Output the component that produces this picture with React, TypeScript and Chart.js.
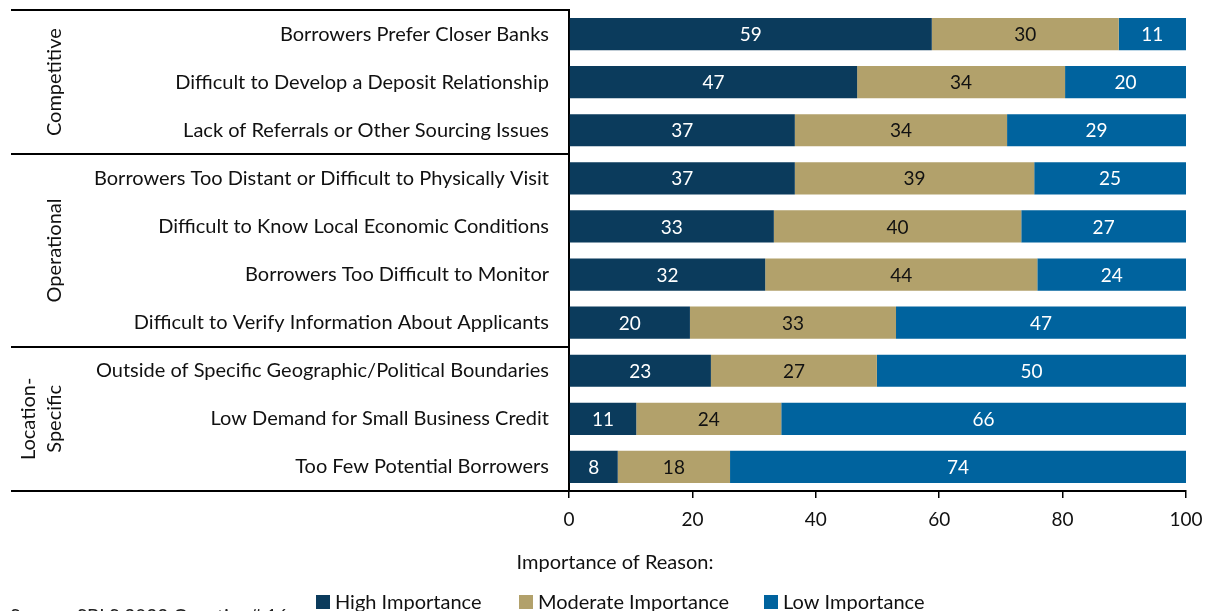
import React, { useEffect, useRef } from "react";
import { Chart, registerables } from "chart.js";

Chart.register(...registerables);

const categories = [
  "Borrowers Prefer Closer Banks",
  "Difficult to Develop a Deposit Relationship",
  "Lack of Referrals or Other Sourcing Issues",
  "Borrowers Too Distant or Difficult to Physically Visit",
  "Difficult to Know Local Economic Conditions",
  "Borrowers Too Difficult to Monitor",
  "Difficult to Verify Information About Applicants",
  "Outside of Specific Geographic/Political Boundaries",
  "Low Demand for Small Business Credit",
  "Too Few Potential Borrowers",
];

const highImportance = [58.8, 46.7, 36.6, 36.6, 33.2, 31.8, 19.6, 23.0, 10.9, 7.9];
const moderateImportance = [30.3, 33.7, 34.4, 38.8, 40.1, 44.1, 33.4, 26.9, 23.5, 18.2];
const lowImportance = [10.9, 19.6, 29.0, 24.6, 26.7, 24.1, 47.0, 50.1, 65.6, 73.9];

const xTicks = [0, 20, 40, 60, 80, 100];

const groupLabels = [["Competitive"], ["Operational"], ["Location-", "Specific"]];
const groupStarts = [0, 3, 7];
const groupEnds = [3, 7, 10];

const seriesNames = ["High Importance", "Moderate Importance", "Low Importance"];
const seriesColors = ["#0B3B5C", "#B2A16B", "#00639E"];
const labelColors = ["#ffffff", "#111111", "#ffffff"];

const legendTitle = "Importance of Reason:";
const sourceNote = "Source: SBLS 2022 Question# 16";

const FONT = "Lato, 'Noto Sans', sans-serif";

const overlayPlugin = {
  id: "overlay",
  afterDatasetsDraw(chart: any) {
    const ctx = chart.ctx;
    ctx.save();
    ctx.font = `19px ${FONT}`;
    ctx.textAlign = "center";
    ctx.textBaseline = "middle";
    chart.data.datasets.forEach((ds: any, di: number) => {
      const meta = chart.getDatasetMeta(di);
      meta.data.forEach((el: any, i: number) => {
        const v = ds.data[i];
        const cx = (el.x + el.base) / 2;
        ctx.fillStyle = labelColors[di];
        ctx.fillText(String(Math.round(v)), cx, el.y + 1);
      });
    });
    ctx.restore();
  },
  afterDraw(chart: any) {
    const ctx = chart.ctx;
    const area = chart.chartArea;
    const y = chart.scales.y;
    ctx.save();
    const boundary = (k: number) => {
      if (k === 0) return area.top;
      if (k >= categories.length) return area.bottom;
      return (y.getPixelForValue(k - 1) + y.getPixelForValue(k)) / 2;
    };
    ctx.strokeStyle = "#000";
    ctx.lineWidth = 2;
    [0, 3, 7, 10].forEach((k) => {
      const yy = Math.round(boundary(k));
      ctx.beginPath();
      ctx.moveTo(11, yy);
      ctx.lineTo(area.left, yy);
      ctx.stroke();
    });
    ctx.fillStyle = "#111";
    ctx.font = `20px ${FONT}`;
    ctx.textAlign = "center";
    ctx.textBaseline = "middle";
    groupLabels.forEach((lines, gi) => {
      const cy = (boundary(groupStarts[gi]) + boundary(groupEnds[gi])) / 2;
      const n = lines.length;
      lines.forEach((line, li) => {
        const cx = 55 - (n - 1 - li) * 26;
        ctx.save();
        ctx.translate(cx, cy);
        ctx.rotate(-Math.PI / 2);
        ctx.fillText(line, 0, 0);
        ctx.restore();
      });
    });
    ctx.font = `20px ${FONT}`;
    ctx.fillText(legendTitle, 615, 563);
    const itemX = [316, 519, 764];
    ctx.textAlign = "left";
    ctx.textBaseline = "middle";
    seriesNames.forEach((name, i) => {
      ctx.fillStyle = seriesColors[i];
      ctx.fillRect(itemX[i], 595, 14, 14);
      ctx.fillStyle = "#111";
      ctx.font = `20px ${FONT}`;
      ctx.fillText(name, itemX[i] + 19, 603);
    });
    ctx.font = `19px ${FONT}`;
    ctx.fillStyle = "#222";
    ctx.fillText(sourceNote, 10, 617);
    ctx.restore();
  },
};

export default function App() {
  const ref = useRef<HTMLCanvasElement | null>(null);
  useEffect(() => {
    if (!ref.current) return;
    const chart = new Chart(ref.current, {
      type: "bar",
      data: {
        labels: categories,
        datasets: [
          { label: seriesNames[0], data: highImportance, backgroundColor: seriesColors[0] },
          { label: seriesNames[1], data: moderateImportance, backgroundColor: seriesColors[1] },
          { label: seriesNames[2], data: lowImportance, backgroundColor: seriesColors[2] },
        ],
      },
      options: {
        indexAxis: "y",
        responsive: false,
        animation: false,
        layout: { padding: { left: 0, right: 20, top: 10, bottom: 0 } },
        datasets: { bar: { categoryPercentage: 1, barPercentage: 0.67 } },
        plugins: { legend: { display: false }, tooltip: { enabled: false } },
        scales: {
          x: {
            stacked: true,
            min: 0,
            max: 100,
            afterFit: (s: any) => {
              s.height = 120;
              s.paddingLeft = 0;
              s.paddingRight = 0;
              s.paddingTop = 0;
              s.paddingBottom = 0;
            },
            afterBuildTicks: (s: any) => {
              s.ticks = xTicks.map((v) => ({ value: v }));
            },
            ticks: { color: "#111", font: { family: FONT, size: 19 }, padding: 10 },
            grid: { drawOnChartArea: false, drawTicks: true, tickLength: 7, color: "#000", lineWidth: 1.5 },
            border: { display: true, color: "#000", width: 2 },
          },
          y: {
            stacked: true,
            afterFit: (s: any) => {
              s.width = 569;
              s.paddingLeft = 0;
              s.paddingRight = 0;
              s.paddingTop = 0;
              s.paddingBottom = 0;
            },
            ticks: { color: "#111", font: { family: FONT, size: 20 }, padding: 20 },
            grid: { display: false, drawTicks: false },
            border: { display: true, color: "#000", width: 2 },
          },
        },
      },
      plugins: [overlayPlugin],
    });
    return () => chart.destroy();
  }, []);
  return (
    <div style={{ position: "absolute", left: 0, top: 0, width: 1206, height: 611 }}>
      <canvas ref={ref} width={1206} height={611} />
    </div>
  );
}
